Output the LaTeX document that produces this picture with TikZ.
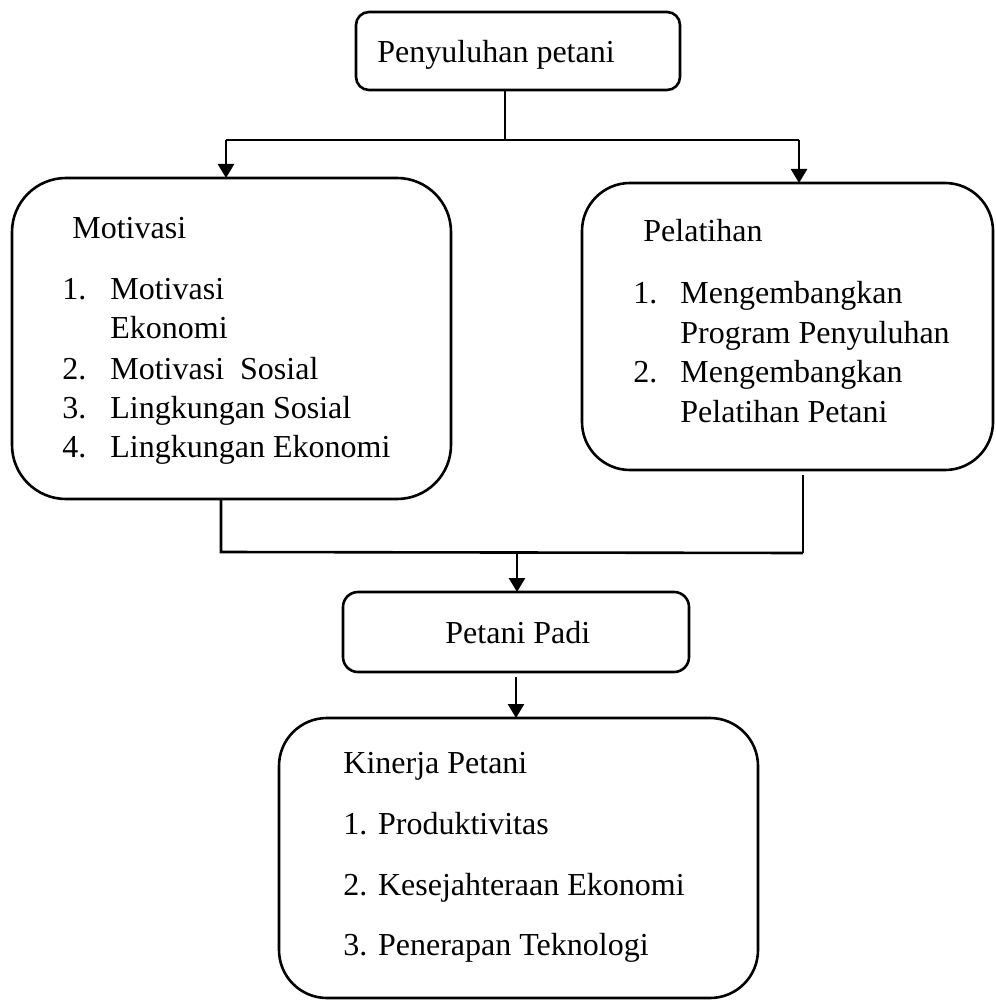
\documentclass[tikz,border=0pt]{standalone}
\usepackage{fontspec}
\setmainfont{Liberation Serif}
\usetikzlibrary{arrows.meta}
\begin{document}
\begin{tikzpicture}[x=0.5pt,y=-0.5pt,
  box/.style={draw,line width=1.3pt,inner sep=0pt,outer sep=0pt},
  line/.style={line width=1.3pt},
  arr/.style={line width=1.3pt,-{Triangle[length=7pt,width=8pt]}},
  txt/.style={anchor=base west,inner sep=0pt,font=\fontsize{16}{20}\selectfont}]
\useasboundingbox (0,0) rectangle (995,1000);
% boxes
\node[box,rounded corners=6.5pt,minimum width=162pt,minimum height=39pt] (top) at (518,51) {};
\node[box,rounded corners=27pt,minimum width=219.5pt,minimum height=160.5pt] (mot) at (231.5,338.5) {};
\node[box,rounded corners=24pt,minimum width=205.5pt,minimum height=143.5pt] (pel) at (787.5,326.5) {};
\node[box,rounded corners=7.5pt,minimum width=173pt,minimum height=40pt] (padi) at (516,632) {};
\node[box,rounded corners=24pt,minimum width=239.5pt,minimum height=140pt] (kin) at (518.5,858) {};
% texts
\node[txt] (t0) at (377,63) {Penyuluhan petani};
\node[txt] (m0) at (72,238) {Motivasi};
\node[txt] (m1n) at (62,299) {1.};
\node[txt] (m1) at (110,299) {Motivasi};
\node[txt] (m1b) at (110,338) {Ekonomi};
\node[txt] (m2n) at (62,379) {2.};
\node[txt] (m2) at (110,379) {Motivasi\ \ Sosial};
\node[txt] (m3n) at (62,418) {3.};
\node[txt] (m3) at (110,418) {Lingkungan Sosial};
\node[txt] (m4n) at (62,457) {4.};
\node[txt] (m4) at (110,457) {Lingkungan Ekonomi};
\node[txt] (p0) at (643,242) {Pelatihan};
\node[txt] (p1n) at (633,303) {1.};
\node[txt] (p1) at (680,303) {Mengembangkan};
\node[txt] (p1b) at (680,343) {Program Penyuluhan};
\node[txt] (p2n) at (633,382) {2.};
\node[txt] (p2) at (680,382) {Mengembangkan};
\node[txt] (p2b) at (680,422) {Pelatihan Petani};
\node[txt] (d0) at (445,643) {Petani Padi};
\node[txt] (k0) at (343,773) {Kinerja Petani};
\node[txt] (k1) at (343,834) {1. Produktivitas};
\node[txt] (k2) at (343,895) {2. Kesejahteraan Ekonomi};
\node[txt] (k3) at (343,955) {3. Penerapan Teknologi};
% connectors top
\coordinate (j1) at (505,140);
\coordinate (jl) at (226,140);
\coordinate (jr) at (799,140);
\draw[line] (j1 |- top.south) -- (j1);
\draw[line] (jl) -- (jr);
\draw[arr] (jl) -- (jl |- mot.north);
\draw[arr] (jr) -- (jr |- pel.north);
% connectors bottom
\coordinate (bl) at (221,552);
\coordinate (br) at (803,553);
\coordinate (bm) at (517,552);
\draw[line] (bl |- mot.south) -- (bl) -- (br);
\draw[line,shorten <=2.5pt] (br |- pel.south) -- (br);
\draw[arr] (bm) -- (bm |- padi.north);
\coordinate (pm) at (516,672);
\draw[arr,shorten <=2.5pt] (pm |- padi.south) -- (pm |- kin.north);
\end{tikzpicture}
\end{document}
